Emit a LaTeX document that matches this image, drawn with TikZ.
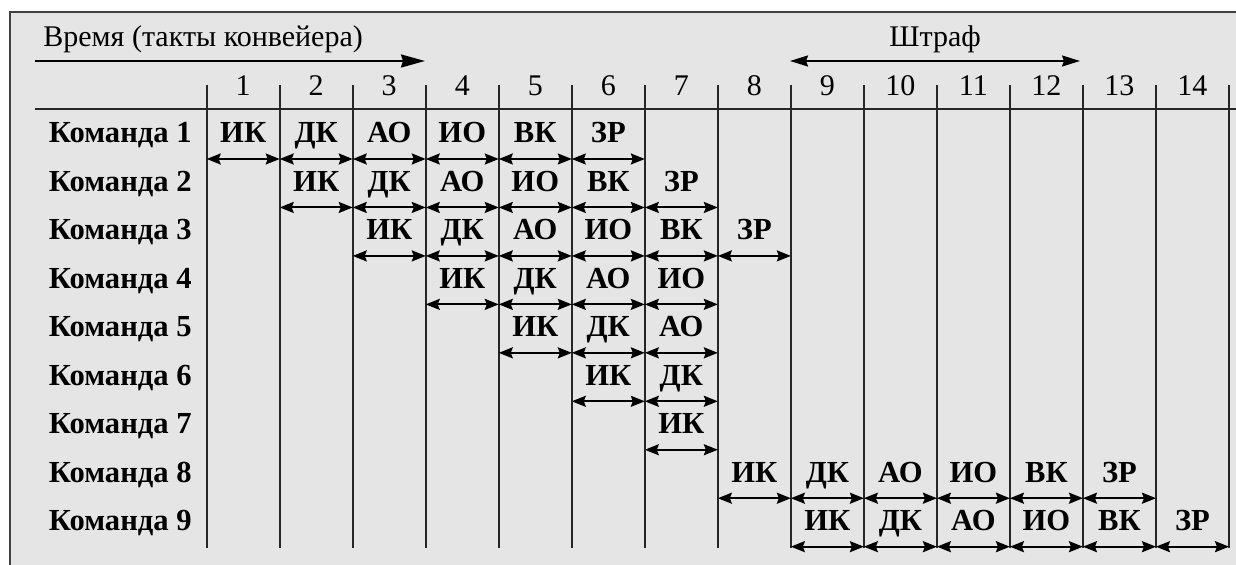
\documentclass[tikz,border=0pt]{standalone}
\usepackage{fontspec}
\setmainfont{Liberation Serif}
\usetikzlibrary{arrows.meta}
\tikzset{
    grid line/.style={line width=1pt, draw=black!85}, % lines of the table
    cell arrow/.style={{Stealth[length=7pt,width=5.5pt,inset=1pt]}-{Stealth[length=7pt,width=5.5pt,inset=1pt]}, line width=1pt},
    cell text/.style={font=\fontsize{15.3}{17}\selectfont\bfseries, anchor=base, inner sep=0pt},
    head text/.style={font=\fontsize{15}{17}\selectfont, anchor=base, inner sep=0pt}
}

\begin{document}
\begin{tikzpicture}[x=0.5pt, y=-0.5pt]
    \useasboundingbox (0,0) rectangle (1236,565);
    \fill[black!10] (10,12) rectangle (1236,565);
    \draw[line width=1.2pt, draw=black!75] (1236,12) -- (10,12) -- (10,565);

    % header
    \node[head text, anchor=base west] (time) at (43,47) {Время (такты конвейера)};
    \coordinate (time start) at (35,61);
    \coordinate (time end) at (425,61);
    \draw[-{Stealth[length=12pt,width=6.5pt,inset=1pt]}, line width=1pt] (time start) -- (time end);
    \node[head text] (penalty) at (935,47) {Штраф};
    \coordinate (penalty start) at (790,61);
    \coordinate (penalty end) at (1080,61);
    \draw[{Stealth[length=9pt,width=5.5pt,inset=1pt]}-{Stealth[length=9pt,width=5.5pt,inset=1pt]}, line width=1pt] (penalty start) -- (penalty end);
    \draw[grid line] (35,109.5) -- (1236,109.5);

    \foreach \c in {1,...,15} {
        \pgfmathsetmacro{\xc}{206.7+73.02*(\c-1)}
        \draw[grid line] (\xc,85) -- (\xc,548);
        \ifnum\c<15
            \node[head text] (num-\c) at (\xc+36.5,96) {\c};
        \fi
    }

    % rows
    \foreach \r / \n in {1/6, 2/6, 3/6, 4/4, 5/3, 6/2, 7/1, 8/6, 9/6} {
        \pgfmathsetmacro{\yb}{143+48.46*(\r-1)}
        \node[cell text, anchor=base east] (cmd-\r) at (192,\yb) {Команда \r};
        \foreach \op [count=\k] in {ИК,ДК,АО,ИО,ВК,ЗР} {
            \ifnum\k>\n\else
                \pgfmathsetmacro{\xl}{206.7+73.02*(\r+\k-2)}
                \node[cell text] (op-\r-\k) at (\xl+36.5,\yb) {\op};
                \coordinate (left-\r-\k) at (\xl,\yb+16);
                \coordinate (right-\r-\k) at (\xl+73.02,\yb+16);
                \draw[cell arrow] (left-\r-\k) -- (right-\r-\k);
            \fi
        }
    }
\end{tikzpicture}
\end{document}
